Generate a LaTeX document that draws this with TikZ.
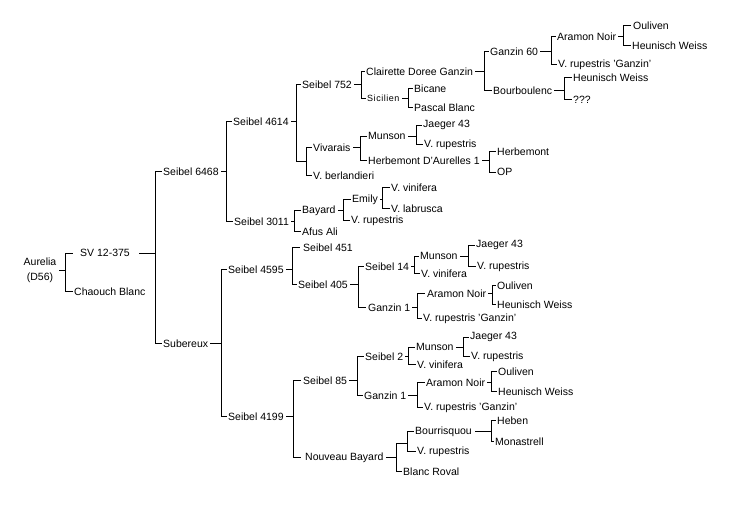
\documentclass[tikz,border=0pt]{standalone}
\usepackage{fontspec}
\setmainfont{Liberation Sans}
\newfontfamily\sicfont[LetterSpace=6]{Liberation Sans}
\usetikzlibrary{calc}
\tikzset{
  lbl/.style={anchor=mid west, inner sep=0pt, font=\fontsize{10.5}{12}\selectfont},
  conn/.style={draw=black, line width=1pt, line cap=rect}
}
\newcommand{\brk}[4]{%
  \draw[conn] let \p1=(#1.east), \n1={max(\x1+2.5pt,#2pt-16pt)} in (\n1,\y1) -- (#2pt,\y1);
  \draw[conn] let \p1=(#3.west), \p2=(#4.west) in (#2pt,\y1) -- (#2pt,\y2);
  \draw[conn] let \p1=(#3.west), \n1={min(\x1-1.5pt,#2pt+7pt)} in (#2pt,\y1) -- (\n1,\y1);
  \draw[conn] let \p1=(#4.west), \n1={min(\x1-1.5pt,#2pt+7pt)} in (#2pt,\y1) -- (\n1,\y1);
}
\begin{document}
\begin{tikzpicture}[x=1pt,y=-1pt]
\fill[white] (0,0) rectangle (730,505);
\useasboundingbox (0,0) rectangle (730,505);
% level 0
\node[inner sep=0pt, align=center, font=\fontsize{10.5}{15}\selectfont] (aur) at (40,270) {Aurelia\\(D56)};
\node[lbl] (sv) at (80,254) {SV 12-375};
\node[lbl] (cb) at (74,293) {Chaouch Blanc};
\node[lbl] (s6468) at (163,173) {Seibel 6468};
\node[lbl] (sub) at (163,345) {Subereux};
\node[lbl] (s4614) at (233,123) {Seibel 4614};
\node[lbl] (s3011) at (234,223) {Seibel 3011};
\node[lbl] (s4595) at (228,271) {Seibel 4595};
\node[lbl] (s4199) at (228,418) {Seibel 4199};
% Seibel 4614 branch
\node[lbl] (s752) at (302,86) {Seibel 752};
\coordinate (j1) at (306,162);
\node[lbl] (viv) at (313,149) {Vivarais};
\node[lbl] (vb) at (313,177) {V. berlandieri};
\node[lbl] (cdg) at (366,73) {Clairette Doree Ganzin};
\node[lbl, font=\sicfont\fontsize{9}{10}\selectfont] (sic) at (367,99) {Sicilien};
\node[lbl] (g60) at (490,53) {Ganzin 60};
\node[lbl] (bourb) at (493,92) {Bourboulenc};
\node[lbl] (an1) at (557,38) {Aramon Noir};
\node[lbl] (vrg1) at (558,65) {V. rupestris 'Ganzin'};
\node[lbl] (oul1) at (633,27) {Ouliven};
\node[lbl] (hw1) at (632,47) {Heunisch Weiss};
\node[lbl] (hw2) at (573,79) {Heunisch Weiss};
\node[lbl] (qqq) at (573,101) {???};
\node[lbl] (bic) at (414,90) {Bicane};
\node[lbl] (pb) at (414,109) {Pascal Blanc};
\node[lbl] (mun1) at (368,137) {Munson};
\node[lbl] (hda) at (368,162) {Herbemont D'Aurelles 1};
\node[lbl] (j43a) at (423,125) {Jaeger 43};
\node[lbl] (vr1) at (424,145) {V. rupestris};
\node[lbl] (herb) at (497,153) {Herbemont};
\node[lbl] (op) at (497,173) {OP};
% Seibel 3011 branch
\node[lbl] (bay) at (302,211) {Bayard};
\node[lbl] (afus) at (302,233) {Afus Ali};
\node[lbl] (emily) at (352,200) {Emily};
\node[lbl] (vr2) at (351,221) {V. rupestris};
\node[lbl] (vv1) at (391,189) {V. vinifera};
\node[lbl] (vl) at (391,210) {V. labrusca};
% Seibel 4595 branch
\node[lbl] (s451) at (303,249) {Seibel 451};
\node[lbl] (s405) at (298,286) {Seibel 405};
\node[lbl] (s14) at (365,268) {Seibel 14};
\node[lbl] (g1a) at (368,309) {Ganzin 1};
\node[lbl] (mun2) at (420,257) {Munson};
\node[lbl] (vv2) at (421,275) {V. vinifera};
\node[lbl] (j43b) at (476,245) {Jaeger 43};
\node[lbl] (vr3) at (477,267) {V. rupestris};
\node[lbl] (an2) at (427,295) {Aramon Noir};
\node[lbl] (vrg2) at (423,319) {V. rupestris 'Ganzin'};
\node[lbl] (oul2) at (497,287) {Ouliven};
\node[lbl] (hw3) at (497,306) {Heunisch Weiss};
% Seibel 4199 branch
\node[lbl] (s85) at (303,382) {Seibel 85};
\node[lbl] (nb) at (305,458) {Nouveau Bayard};
\node[lbl] (s2) at (365,358) {Seibel 2};
\node[lbl] (g1b) at (364,397) {Ganzin 1};
\node[lbl] (mun3) at (416,348) {Munson};
\node[lbl] (vv3) at (417,366) {V. vinifera};
\node[lbl] (j43c) at (470,337) {Jaeger 43};
\node[lbl] (vr4) at (471,357) {V. rupestris};
\node[lbl] (an3) at (426,384) {Aramon Noir};
\node[lbl] (vrg3) at (424,408) {V. rupestris 'Ganzin'};
\node[lbl] (oul3) at (498,373) {Ouliven};
\node[lbl] (hw4) at (498,393) {Heunisch Weiss};
\coordinate (j2) at (407,443);
\node[lbl] (bour) at (415,432) {Bourrisquou};
\node[lbl] (vr5) at (417,452) {V. rupestris};
\node[lbl] (br) at (403,473) {Blanc Roval};
\node[lbl] (heb) at (497,422) {Heben};
\node[lbl] (mon) at (495,443) {Monastrell};
% brackets
\brk{aur}{65}{sv}{cb}
\brk{sv}{155}{s6468}{sub}
\brk{s6468}{226}{s4614}{s3011}
\brk{sub}{221}{s4595}{s4199}
% Seibel 4614 with junction
\draw[conn] let \p1=(s4614.east) in (\x1+2.5pt,\y1) -- (296pt,\y1);
\draw[conn] let \p1=(s752.west) in (296pt,\y1) -- (\x1-1.5pt,\y1);
\draw[conn] let \p1=(s752.west), \p2=(j1) in (296pt,\y1) -- (296pt,\y2) -- (j1);
\draw[conn] (viv.west -| j1) -- (vb.west -| j1);
\draw[conn] (viv.west -| j1) -- ([xshift=-1.5pt]viv.west);
\draw[conn] (vb.west -| j1) -- ([xshift=-1.5pt]vb.west);
\brk{s3011}{294}{bay}{afus}
\brk{s752}{361}{cdg}{sic}
\brk{cdg}{484}{g60}{bourb}
\brk{g60}{551}{an1}{vrg1}
\brk{an1}{623}{oul1}{hw1}
\brk{bourb}{564}{hw2}{qqq}
\brk{sic}{408}{bic}{pb}
\brk{viv}{360}{mun1}{hda}
\brk{mun1}{416}{j43a}{vr1}
\brk{hda}{489}{herb}{op}
\brk{bay}{343}{emily}{vr2}
\brk{emily}{382}{vv1}{vl}
\brk{s4595}{292}{s451}{s405}
\brk{s405}{358}{s14}{g1a}
\brk{s14}{414}{mun2}{vv2}
\brk{mun2}{468}{j43b}{vr3}
\brk{g1a}{417}{an2}{vrg2}
\brk{an2}{492}{oul2}{hw3}
\brk{s4199}{293}{s85}{nb}
\brk{s85}{357}{s2}{g1b}
\brk{s2}{408}{mun3}{vv3}
\brk{mun3}{463}{j43c}{vr4}
\brk{g1b}{417}{an3}{vrg3}
\brk{an3}{491}{oul3}{hw4}
% Nouveau Bayard with junction
\draw[conn] let \p1=(nb.east) in (\x1+2.5pt,\y1) -- (396pt,\y1);
\draw[conn] let \p1=(j2), \p2=(br.west) in (396pt,\y1) -- (396pt,\y2) -- (\x2-1.5pt,\y2);
\draw[conn] let \p1=(j2) in (396pt,\y1) -- (j2);
\draw[conn] (bour.west -| j2) -- (vr5.west -| j2);
\draw[conn] (bour.west -| j2) -- ([xshift=-1.5pt]bour.west);
\draw[conn] (vr5.west -| j2) -- ([xshift=-1.5pt]vr5.west);
\brk{bour}{491}{heb}{mon}
\end{tikzpicture}
\end{document}
